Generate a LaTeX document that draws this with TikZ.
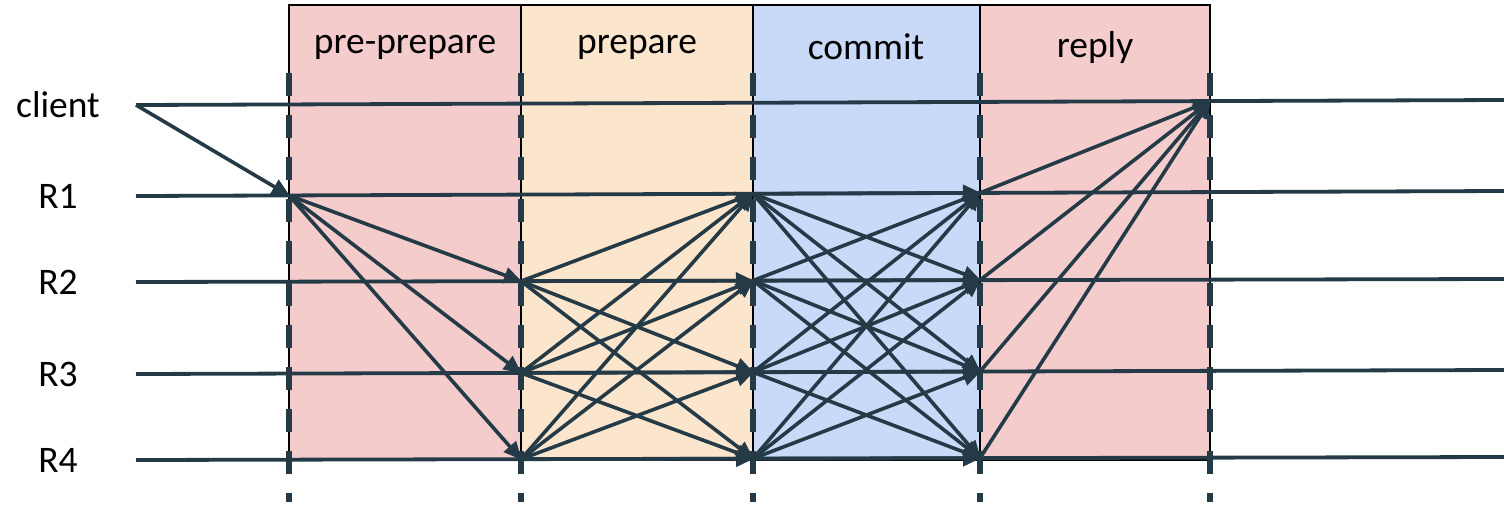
\documentclass[tikz,border=0pt]{standalone}
\usepackage{fontspec}
\setmainfont{Carlito}
\usetikzlibrary{arrows.meta}
\definecolor{linec}{HTML}{243B47}
\definecolor{pinkc}{HTML}{F4CCCC}
\definecolor{peachc}{HTML}{FCE5CD}
\definecolor{bluec}{HTML}{C9DAF8}
\begin{document}
\begin{tikzpicture}[x=1pt,y=-1pt,
  phasebox/.style={draw=black,line width=1.4pt},
  timeline/.style={draw=linec,line width=3.8pt},
  msg/.style={draw=linec,line width=3.6pt,-{Triangle[length=18pt,width=16pt]},shorten >=-1pt},
  divider/.style={draw=linec,line width=5.5pt,dash pattern=on 23pt off 19pt},
  lbl/.style={font=\fontsize{37.5}{42}\selectfont,text=black,inner sep=0pt}]
\useasboundingbox (0,0) rectangle (1504,504);
% phase boxes
\path[phasebox,fill=pinkc] (289,5) rectangle (521,460);
\path[phasebox,fill=peachc] (521,5) rectangle (753,460);
\path[phasebox,fill=bluec] (753,5) rectangle (980,460);
\path[phasebox,fill=pinkc] (980,5) rectangle (1210,460);
\node[lbl] (tpp) at (405,47) {pre-prepare};
\node[lbl] (tp) at (637,47) {prepare};
\node[lbl] (tc) at (866,47) {commit};
\node[lbl] (tr) at (1095,47) {reply};
% timelines
\coordinate (cL) at (136,105); \coordinate (cR) at (1504,100);
\coordinate (r1L) at (136,196); \coordinate (r1R) at (1504,191);
\coordinate (r2L) at (136,282); \coordinate (r2R) at (1504,279);
\coordinate (r3L) at (136,374); \coordinate (r3R) at (1504,370);
\coordinate (r4L) at (136,460); \coordinate (r4R) at (1504,457);
\draw[timeline] (cL) -- (cR);
\draw[timeline] (r1L) -- (r1R);
\draw[timeline] (r2L) -- (r2R);
\draw[timeline] (r3L) -- (r3R);
\draw[timeline] (r4L) -- (r4R);
\node[lbl] (lc) at (58,105) {client};
\node[lbl] (l1) at (58,196) {R1};
\node[lbl] (l2) at (58,282) {R2};
\node[lbl] (l3) at (58,374) {R3};
\node[lbl] (l4) at (58,460) {R4};
% dividers
\foreach \x/\n in {289/a,521/b,753/c,980/d,1210/e}{
  \coordinate (\n top) at (\x,73);
  \coordinate (\n bot) at (\x,502);
  \draw[divider] (\n top) -- (\n bot);
}
% event points
\coordinate (a1) at (289,195.4);
\coordinate (b1) at (521,194.6); \coordinate (b2) at (521,281.2); \coordinate (b3) at (521,372.9); \coordinate (b4) at (521,459.2);
\coordinate (c1) at (753,193.7); \coordinate (c2) at (753,280.6); \coordinate (c3) at (753,372.2); \coordinate (c4) at (753,458.6);
\coordinate (d1) at (980,192.9); \coordinate (d2) at (980,280.1); \coordinate (d3) at (980,371.5); \coordinate (d4) at (980,458.1);
\coordinate (e0) at (1210,101.1);
% request
\draw[msg] (cL) -- (a1);
% pre-prepare
\foreach \j in {2,3,4}{\draw[msg] (a1) -- (b\j);}
% prepare
\foreach \i in {2,3,4}{\foreach \j in {1,2,3,4}{\draw[msg] (b\i) -- (c\j);}}
% commit
\foreach \i in {1,2,3,4}{\foreach \j in {1,2,3,4}{\draw[msg] (c\i) -- (d\j);}}
% reply
\foreach \i in {1,2,3,4}{\draw[msg] (d\i) -- (e0);}
\end{tikzpicture}
\end{document}
